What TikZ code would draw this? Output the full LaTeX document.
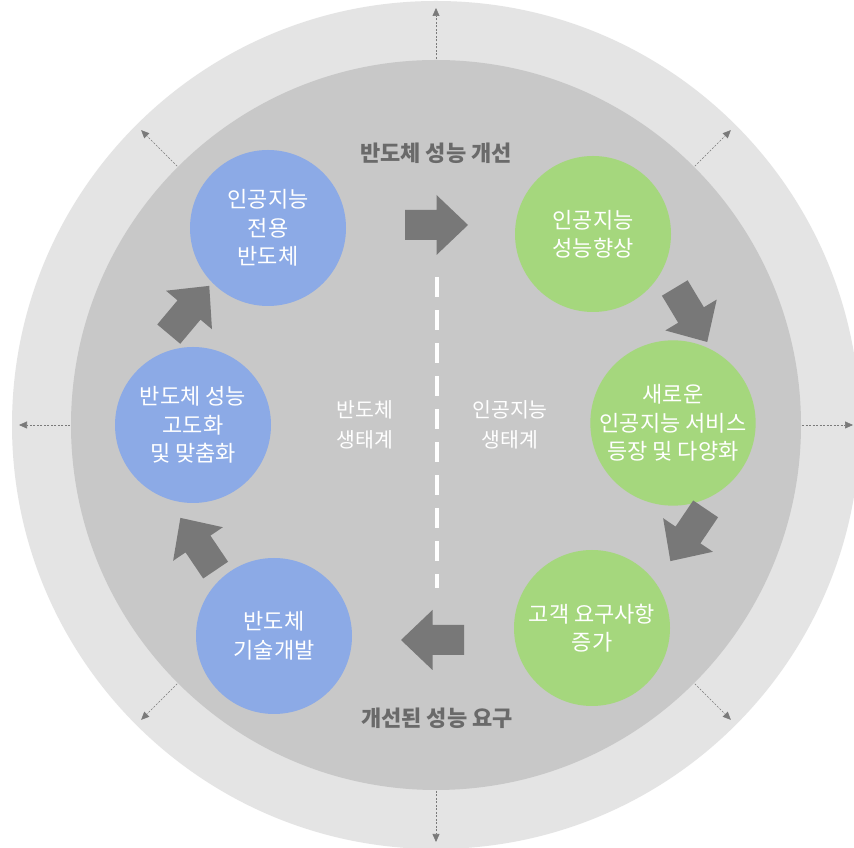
\documentclass[tikz,border=0pt]{standalone}
\usepackage{fontspec}
\setmainfont{Noto Sans CJK KR}
\usetikzlibrary{arrows.meta,calc}
\definecolor{ringgray}{HTML}{E4E4E4}
\definecolor{innergray}{HTML}{C8C8C8}
\definecolor{nodeblue}{HTML}{8CAAE6}
\definecolor{nodegreen}{HTML}{A5D77D}
\definecolor{arrowgray}{HTML}{787878}
\definecolor{labelgray}{HTML}{6A6A6A}
\definecolor{radialgray}{HTML}{7A7A7A}
\begin{document}
\begin{tikzpicture}[x=1pt,y=1pt,
  circ/.style={circle, minimum size=156pt, inner sep=0pt, text=white, align=center, font=\fontsize{22}{28.5}\selectfont},
  bluec/.style={circ, fill=nodeblue},
  greenc/.style={circ, fill=nodegreen},
  radial/.style={draw=radialgray, line width=0.6pt, dash pattern=on 2pt off 1.5pt, -{Triangle[length=8pt,width=7pt]}},
  eco/.style={text=white, align=center, font=\fontsize{20.5}{30}\selectfont},
  caption/.style={text=labelgray, font=\bfseries\fontsize{22}{26}\selectfont},
  pics/barrow/.style={code={\fill[arrowgray] (-31.5,-15) -- (0,-15) -- (0,-30) -- (31.5,0) -- (0,30) -- (0,15) -- (-31.5,15) -- cycle;}}
]
\useasboundingbox (0,0) rectangle (854,848);
\fill[white] (0,0) rectangle (854,848);
\coordinate (c) at (436,423);
\fill[ringgray] (c) circle[radius=424];
\fill[innergray] (c) circle[radius=365];
% radial dashed arrows
\foreach \a in {0,45,...,315}
  \draw[radial] ($(c)+(\a:366)$) -- ($(c)+(\a:417)$);
% circles
\node[bluec] (b1) at (268,620) {인공지능\\전용\\반도체};
\node[bluec] (b2) at (193,423) {반도체 성능\\고도화\\및 맞춤화};
\node[bluec] (b3) at (274,212) {반도체\\기술개발};
\node[greenc] (g1) at (593,614) {인공지능\\성능향상};
\node[greenc] (g2) at (673,425) {새로운\\인공지능 서비스\\등장 및 다양화};
\node[greenc] (g3) at (592,220) {고객 요구사항\\증가};
% dashed divider
\coordinate (dtop) at (437,571);
\coordinate (dbot) at (437,260);
\draw[white, line width=4pt, dash pattern=on 20pt off 13pt] (dtop) -- (dbot);
% texts
\node[caption] (top) at (436,695) {반도체 성능 개선};
\node[caption] (bot) at (437,130) {개선된 성능 요구};
\node[eco] (semi) at (365,423) {반도체\\생태계};
\node[eco] (ai) at (510,423) {인공지능\\생태계};
% block arrows
\coordinate (arR) at (436.5,623);
\coordinate (arL) at (432.5,208);
\coordinate (arA) at (189,538);
\coordinate (arB) at (198,304);
\coordinate (arC) at (691,533);
\coordinate (arD) at (688,313);
\pic at (arR) {barrow};
\pic[rotate=180] at (arL) {barrow};
\pic[rotate=50] at (arA) {barrow};
\pic[rotate=124] at (arB) {barrow};
\pic[rotate=-59] at (arC) {barrow};
\pic[rotate=-124] at (arD) {barrow};
\end{tikzpicture}
\end{document}
